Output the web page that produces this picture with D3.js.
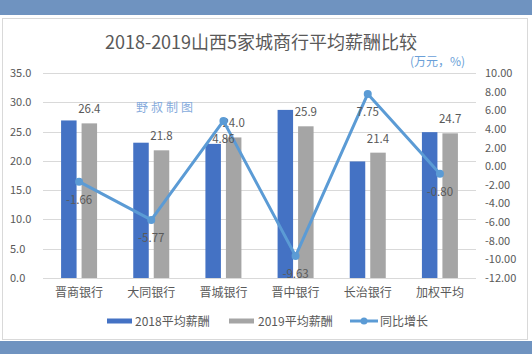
<!DOCTYPE html>
<html>
<head>
<meta charset="utf-8">
<script src="https://cdn.jsdelivr.net/npm/d3@7"></script>
<style>
  html, body { margin: 0; padding: 0; background: #fff; }
  svg { display: block; font-family: "Noto Sans CJK SC", "Noto Sans", sans-serif; }
</style>
</head>
<body>
<svg id="chart" width="532" height="354"></svg>
<script>
// ===============================
// Dades
// ===============================
const banks = ["晋商银行", "大同银行", "晋城银行", "晋中银行", "长治银行", "加权平均"];
const pay2018 = [26.9, 23.1, 22.9, 28.7, 19.9, 24.9];
const pay2019 = [26.4, 21.8, 24.0, 25.9, 21.4, 24.7];
const growth = [-1.66, -5.77, 4.86, -9.63, 7.75, -0.80];
const leftTicks = [0, 5, 10, 15, 20, 25, 30, 35];
const rightTicks = [10, 8, 6, 4, 2, 0, -2, -4, -6, -8, -10, -12];
const seriesNames = ["2018平均薪酬", "2019平均薪酬", "同比增长"];

const C_BLUE = "#4472c4";
const C_GRAY = "#a5a5a5";
const C_LINE = "#5b9bd5";
const C_TEXT = "#595959";
const C_GRID = "#d9d9d9";
const C_BAND = "#6f93c0";

const svg = d3.select("#chart");

// ===============================
// Fons i marc
// ===============================
svg.append("rect").attr("x", 0).attr("y", 0).attr("width", 532).attr("height", 15).attr("fill", C_BAND);
svg.append("rect").attr("x", 0).attr("y", 341).attr("width", 532).attr("height", 13).attr("fill", C_BAND);
svg.append("rect")
  .attr("x", 2.5).attr("y", 18.5).attr("width", 525).attr("height", 321)
  .attr("fill", "#fff").attr("stroke", C_GRID).attr("stroke-width", 1);

// ===============================
// Escales
// ===============================
const x = d3.scaleBand().domain(banks).range([43, 476]);
const x1 = d3.scaleBand().domain(["2018", "2019"]).range([0, 36]).paddingInner(0.244);
const yL = d3.scaleLinear().domain([0, 35]).range([278, 73]);
const yR = d3.scaleLinear().domain([-12, 10]).range([278, 73]);
const cx = d => x(d) + x.bandwidth() / 2;

// ===============================
// Graella i eixos
// ===============================
svg.append("g").selectAll("line")
  .data(leftTicks)
  .enter().append("line")
  .attr("x1", 43).attr("x2", 476)
  .attr("y1", d => Math.round(yL(d)) + 0.5)
  .attr("y2", d => Math.round(yL(d)) + 0.5)
  .attr("stroke", C_GRID).attr("stroke-width", 1);

svg.append("g").selectAll("text")
  .data(leftTicks)
  .enter().append("text")
  .attr("x", 10).attr("y", d => yL(d) + 4)
  .text(d => d.toFixed(1))
  .style("font-size", "11px").style("fill", C_TEXT);

svg.append("g").selectAll("text")
  .data(rightTicks)
  .enter().append("text")
  .attr("x", 485).attr("y", d => yR(d) + 4)
  .text(d => d.toFixed(2))
  .style("font-size", "11px").style("fill", C_TEXT);

svg.append("g").selectAll("text")
  .data(banks)
  .enter().append("text")
  .attr("x", d => cx(d)).attr("y", 297)
  .attr("text-anchor", "middle")
  .text(d => d)
  .style("font-size", "12px").style("fill", C_TEXT);

// ===============================
// Barres
// ===============================
const groups = svg.append("g").selectAll("g")
  .data(banks)
  .enter().append("g")
  .attr("transform", d => `translate(${cx(d) - 18},0)`);

groups.append("rect")
  .attr("x", x1("2018")).attr("width", x1.bandwidth())
  .attr("y", (d, i) => yL(pay2018[i]))
  .attr("height", (d, i) => yL(0) - yL(pay2018[i]))
  .attr("fill", C_BLUE);

groups.append("rect")
  .attr("x", x1("2019")).attr("width", x1.bandwidth())
  .attr("y", (d, i) => yL(pay2019[i]))
  .attr("height", (d, i) => yL(0) - yL(pay2019[i]))
  .attr("fill", C_GRAY);

groups.append("text")
  .attr("x", x1("2019") + x1.bandwidth() / 2)
  .attr("y", (d, i) => yL(pay2019[i]) - 10)
  .attr("text-anchor", "middle")
  .text((d, i) => pay2019[i].toFixed(1))
  .style("font-size", "11.5px").style("fill", C_TEXT);

// ===============================
// Línia de creixement
// ===============================
const line = d3.line()
  .x((d, i) => cx(banks[i]))
  .y(d => yR(d));

svg.append("path")
  .datum(growth)
  .attr("d", line)
  .attr("fill", "none")
  .attr("stroke", C_LINE)
  .attr("stroke-width", 3)
  .attr("stroke-linejoin", "round");

svg.append("g").selectAll("circle")
  .data(growth)
  .enter().append("circle")
  .attr("cx", (d, i) => cx(banks[i]))
  .attr("cy", d => yR(d))
  .attr("r", 4)
  .attr("fill", C_LINE);

svg.append("g").selectAll("text")
  .data(growth)
  .enter().append("text")
  .attr("x", (d, i) => cx(banks[i]))
  .attr("y", d => yR(d) + 22)
  .attr("text-anchor", "middle")
  .text(d => d.toFixed(2))
  .style("font-size", "11.5px").style("fill", C_TEXT);

// ===============================
// Títol i textos
// ===============================
svg.append("text")
  .attr("x", 261).attr("y", 49)
  .attr("text-anchor", "middle")
  .text("2018-2019山西5家城商行平均薪酬比较")
  .style("font-size", "18px").style("fill", C_TEXT);

svg.append("text")
  .attr("x", 410).attr("y", 66)
  .text("(万元，%)")
  .style("font-size", "12px").style("fill", "#6a9fd8");

svg.append("text")
  .attr("x", 136).attr("y", 112)
  .text("野叔制图")
  .style("font-size", "12px")
  .style("letter-spacing", "3px")
  .style("fill", "#86abdc");

// ===============================
// Llegenda
// ===============================
const legend = svg.append("g").attr("transform", "translate(0,321)");

legend.append("rect").attr("x", 107).attr("y", -2.5).attr("width", 25).attr("height", 5).attr("fill", C_BLUE);
legend.append("text").attr("x", 135).attr("y", 4.5).text(seriesNames[0])
  .style("font-size", "12px").style("fill", C_TEXT);

legend.append("rect").attr("x", 229).attr("y", -2.5).attr("width", 25).attr("height", 5).attr("fill", C_GRAY);
legend.append("text").attr("x", 258).attr("y", 4.5).text(seriesNames[1])
  .style("font-size", "12px").style("fill", C_TEXT);

legend.append("line").attr("x1", 350).attr("x2", 378).attr("y1", 0).attr("y2", 0)
  .attr("stroke", C_LINE).attr("stroke-width", 3);
legend.append("circle").attr("cx", 364).attr("cy", 0).attr("r", 3.5).attr("fill", C_LINE);
legend.append("text").attr("x", 380).attr("y", 4.5).text(seriesNames[2])
  .style("font-size", "12px").style("fill", C_TEXT);
</script>
</body>
</html>
